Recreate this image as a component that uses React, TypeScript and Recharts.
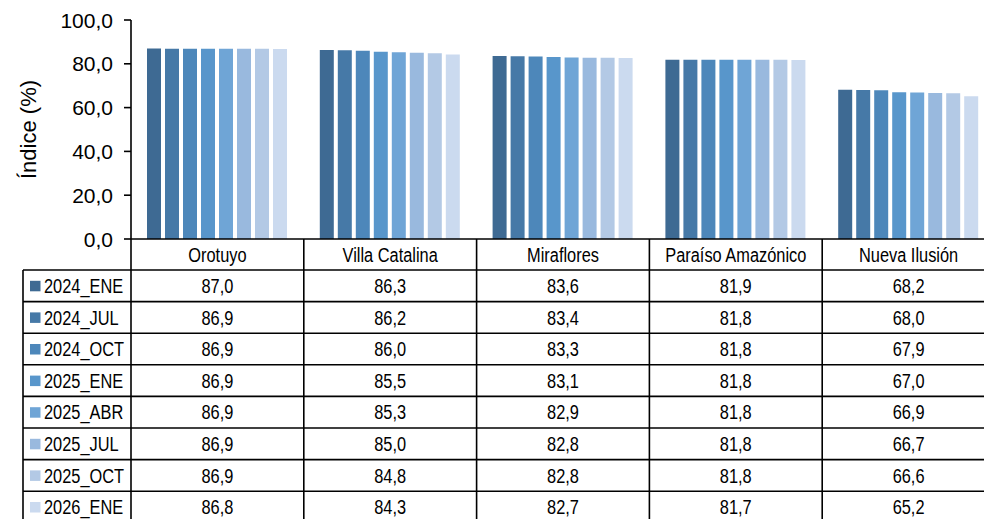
import { Bar, BarChart, XAxis, YAxis } from "recharts";

const districts = ["Orotuyo", "Villa Catalina", "Miraflores", "Paraíso Amazónico", "Nueva Ilusión"];
const periods = ["2024_ENE", "2024_JUL", "2024_OCT", "2025_ENE", "2025_ABR", "2025_JUL", "2025_OCT", "2026_ENE"];

const ene2024 = [87.0, 86.3, 83.6, 81.9, 68.2];
const jul2024 = [86.9, 86.2, 83.4, 81.8, 68.0];
const oct2024 = [86.9, 86.0, 83.3, 81.8, 67.9];
const ene2025 = [86.9, 85.5, 83.1, 81.8, 67.0];
const abr2025 = [86.9, 85.3, 82.9, 81.8, 66.9];
const jul2025 = [86.9, 85.0, 82.8, 81.8, 66.7];
const oct2025 = [86.9, 84.8, 82.8, 81.8, 66.6];
const ene2026 = [86.8, 84.3, 82.7, 81.7, 65.2];

const seriesValues = [ene2024, jul2024, oct2024, ene2025, abr2025, jul2025, oct2025, ene2026];
const yTicks = [0, 20, 40, 60, 80, 100];

const colors = ["#3e6a93", "#4679a7", "#4d87ba", "#5896cb", "#6fa5d6", "#99b9de", "#b3c9e5", "#cbdaef"];

const data = districts.map((name, i) => {
  const row: Record<string, string | number> = { name };
  periods.forEach((p, s) => {
    row[p] = seriesValues[s][i];
  });
  return row;
});

const FONT = '"Liberation Sans", Arial, sans-serif';
const CHART_W = 1000;
const CHART_H = 519;
const PLOT_TOP = 20;
const PLOT_LEFT = 131;
const PLOT_RIGHT = 995;
const AXIS_Y = 239;
const HEADER_H = 31;
const ROW_H = 31.6;
const TABLE_LEFT = 23;
const band = (PLOT_RIGHT - PLOT_LEFT) / districts.length;

const fmt = (v: number) => v.toFixed(1).replace(".", ",");

// the source text is a condensed face, so squeeze the regular one
function Narrow({ x, y, anchor = "middle", size = 21, children }: any) {
  return (
    <text
      transform={`translate(${x} ${y}) scale(0.78 1)`}
      textAnchor={anchor}
      dominantBaseline="central"
      fontSize={size}
      fontFamily={FONT}
      fill="#000"
    >
      {children}
    </text>
  );
}

function TableColumn(props: any) {
  const { x, payload, index } = props;
  const left = x - band / 2;
  const right = x + band / 2;
  const rowsTop = AXIS_Y + HEADER_H;
  const i = index as number;
  return (
    <g>
      <line x1={left} x2={left} y1={AXIS_Y} y2={CHART_H} stroke="#000" strokeWidth={1.6} />
      {i === districts.length - 1 && (
        <line x1={right} x2={right} y1={AXIS_Y} y2={CHART_H} stroke="#000" strokeWidth={1.6} />
      )}
      <Narrow x={x} y={AXIS_Y + HEADER_H / 2}>{payload.value}</Narrow>
      {periods.map((p, s) => {
        const top = rowsTop + s * ROW_H;
        return (
          <g key={p}>
            <line x1={left} x2={right} y1={top} y2={top} stroke="#000" strokeWidth={1.6} />
            <Narrow x={x} y={top + ROW_H / 2}>{fmt(seriesValues[s][i])}</Narrow>
          </g>
        );
      })}
      {i === 0 && (
        <g>
          <line x1={TABLE_LEFT} x2={TABLE_LEFT} y1={rowsTop} y2={CHART_H} stroke="#000" strokeWidth={1.6} />
          {periods.map((p, s) => {
            const top = rowsTop + s * ROW_H;
            return (
              <g key={p}>
                <line x1={TABLE_LEFT} x2={left} y1={top} y2={top} stroke="#000" strokeWidth={1.6} />
                <rect x={30} y={top + ROW_H / 2 - 5} width={10.5} height={10.5} fill={colors[s]} />
                <Narrow x={44} y={top + ROW_H / 2} anchor="start">{p}</Narrow>
              </g>
            );
          })}
        </g>
      )}
    </g>
  );
}

function YTick(props: any) {
  const { x, y, payload, index } = props;
  const cy = (PLOT_TOP + AXIS_Y) / 2;
  return (
    <g>
      <text x={x} y={y} textAnchor="end" dominantBaseline="central" fontSize={21} fontFamily={FONT} fill="#000">
        {fmt(payload.value)}
      </text>
      {index === 0 && (
        <text
          x={28}
          y={cy}
          transform={`rotate(-90 28 ${cy})`}
          textAnchor="middle"
          dominantBaseline="central"
          fontSize={22}
          fontFamily={FONT}
          fill="#000"
        >
          Índice (%)
        </text>
      )}
    </g>
  );
}

export default function App() {
  return (
    <div style={{ position: "absolute", left: 0, top: 0, width: 984, height: 519, overflow: "hidden", background: "#fff" }}>
      <BarChart
        width={CHART_W}
        height={CHART_H}
        data={data}
        margin={{ top: PLOT_TOP, right: CHART_W - PLOT_RIGHT, left: 0, bottom: 0 }}
        barCategoryGap={16}
        barGap={4}
      >
        <XAxis
          dataKey="name"
          height={CHART_H - AXIS_Y}
          axisLine={{ stroke: "#000", strokeWidth: 1.6 }}
          tickLine={false}
          interval={0}
          tick={<TableColumn />}
        />
        <YAxis
          width={PLOT_LEFT}
          domain={[0, 100]}
          ticks={yTicks}
          axisLine={{ stroke: "#000", strokeWidth: 1.6 }}
          tickLine={{ stroke: "#000", strokeWidth: 1.6 }}
          tickSize={7}
          tickMargin={11}
          tick={<YTick />}
        />
        {periods.map((p, s) => (
          <Bar key={p} dataKey={p} fill={colors[s]} isAnimationActive={false} />
        ))}
      </BarChart>
    </div>
  );
}
